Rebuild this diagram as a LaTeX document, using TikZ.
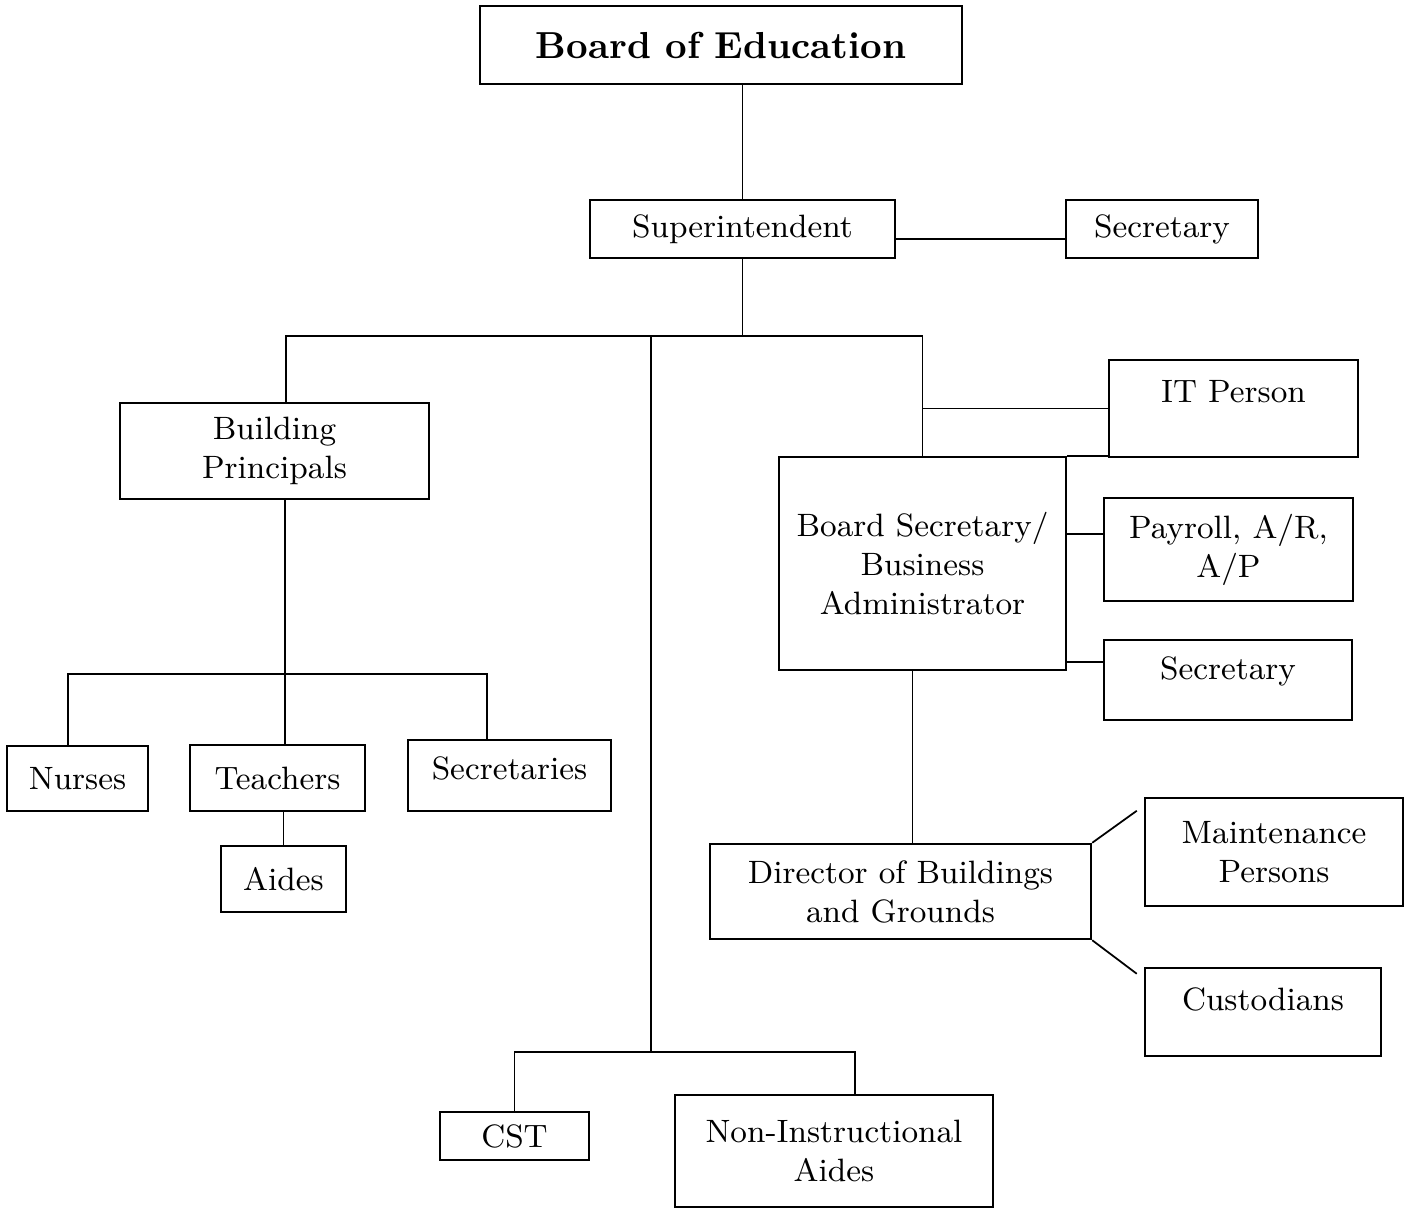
\documentclass[tikz,border=0pt]{standalone}
\begin{document}
\begin{tikzpicture}[
    box/.style={draw, line width=0.7pt, align=center, inner sep=1pt, font=\fontsize{9.2}{11.1}\selectfont},
    link/.style={line width=0.5pt}
]
        \useasboundingbox (0,0) rectangle (14.05,-12.09);

        % top
        \node[box, minimum width=4.82cm, minimum height=0.78cm, font=\fontsize{10.7}{13}\selectfont\bfseries] (board) at (7.21,-0.45) {Board of Education};
        \node[box, minimum width=3.05cm, minimum height=0.58cm] (sup) at (7.425,-2.29) {Superintendent};
        \node[box, minimum width=1.92cm, minimum height=0.58cm] (secsup) at (11.62,-2.29) {Secretary};

        % schools
        \node[box, minimum width=3.09cm, minimum height=0.96cm] (bp) at (2.745,-4.51) {Building\\Principals};
        \node[box, minimum width=1.41cm, minimum height=0.65cm] (nurses) at (0.775,-7.785) {Nurses};
        \node[box, minimum width=1.75cm, minimum height=0.66cm] (teach) at (2.775,-7.78) {Teachers};
        \node[box, minimum width=2.03cm, minimum height=0.71cm, text depth=1.5mm] (secs) at (5.095,-7.755) {Secretaries};
        \node[box, minimum width=1.25cm, minimum height=0.66cm] (aides) at (2.835,-8.79) {Aides};

        % child study
        \node[box, minimum width=1.49cm, minimum height=0.48cm] (cst) at (5.145,-11.36) {CST};
        \node[box, minimum width=3.18cm, minimum height=1.12cm] (nia) at (8.34,-11.51) {Non-Instructional\\Aides};

        % business office
        \node[box, minimum width=2.87cm, minimum height=2.13cm] (bsba) at (9.225,-5.635) {Board Secretary/\\Business\\Administrator};
        \node[box, minimum width=2.49cm, minimum height=0.97cm, text depth=3.5mm] (it) at (12.335,-4.085) {IT Person};
        \node[box, minimum width=2.49cm, minimum height=1.03cm] (pay) at (12.285,-5.495) {Payroll, A/R,\\A/P};
        \node[box, minimum width=2.48cm, minimum height=0.80cm, text depth=2.4mm] (secbus) at (12.28,-6.80) {Secretary};

        % buildings and grounds
        \node[box, minimum width=3.81cm, minimum height=0.95cm] (dir) at (9.005,-8.915) {Director of Buildings\\and Grounds};
        \node[box, minimum width=2.58cm, minimum height=1.08cm] (maint) at (12.74,-8.52) {Maintenance\\Persons};
        \node[box, minimum width=2.36cm, minimum height=0.88cm, text depth=2.6mm] (cust) at (12.63,-10.12) {Custodians};

        % junctions
        \coordinate (topbar) at (7.425,-3.36);
        \coordinate (schoolbar) at (2.85,-6.74);
        \coordinate (csbar) at (6.51,-10.52);

        % upper links
        \draw[link] (board.south -| sup.north) -- (sup.north);
        \draw[link] ([yshift=-1mm]sup.east) -- ([yshift=-1mm]secsup.west);
        \draw[link] (sup.south) -- (topbar);
        \draw[link] ([xshift=1.15mm]bp.north) |- (topbar -| bsba.north) -- (bsba.north);
        \draw[link] (topbar -| csbar) -- (csbar);

        % school links
        \draw[link] (bp.south -| schoolbar) -- (schoolbar);
        \draw[link] ([xshift=-0.95mm]nurses.north) |- ([xshift=-2.25mm]secs.north |- schoolbar) -- ([xshift=-2.25mm]secs.north);
        \draw[link] (schoolbar) -- (schoolbar |- teach.north);
        \draw[link] (teach.south -| aides.north) -- (aides.north);

        % child study links
        \draw[link] (cst.north) |- ([xshift=2.1mm]nia.north |- csbar) -- ([xshift=2.1mm]nia.north);

        % business links
        \draw[link] (bsba.north |- it.west) -- (it.west);
        \draw[link] (bsba.north east) -- (bsba.north east -| it.west);
        \draw[link] ([yshift=2.95mm]bsba.east) -- ([yshift=1.55mm]pay.west);
        \draw[link] ([yshift=-9.85mm]bsba.east) -- ([yshift=1.8mm]secbus.west);
        \draw[link] ([xshift=1.2mm]dir.north) -- ([xshift=1.2mm]dir.north |- bsba.south);

        % grounds links
        \draw[link] (dir.north east) -- ([xshift=-0.7mm,yshift=-1.4mm]maint.north west);
        \draw[link] (dir.south east) -- ([xshift=-0.7mm,yshift=-0.7mm]cust.north west);

    \end{tikzpicture}
\end{document}
